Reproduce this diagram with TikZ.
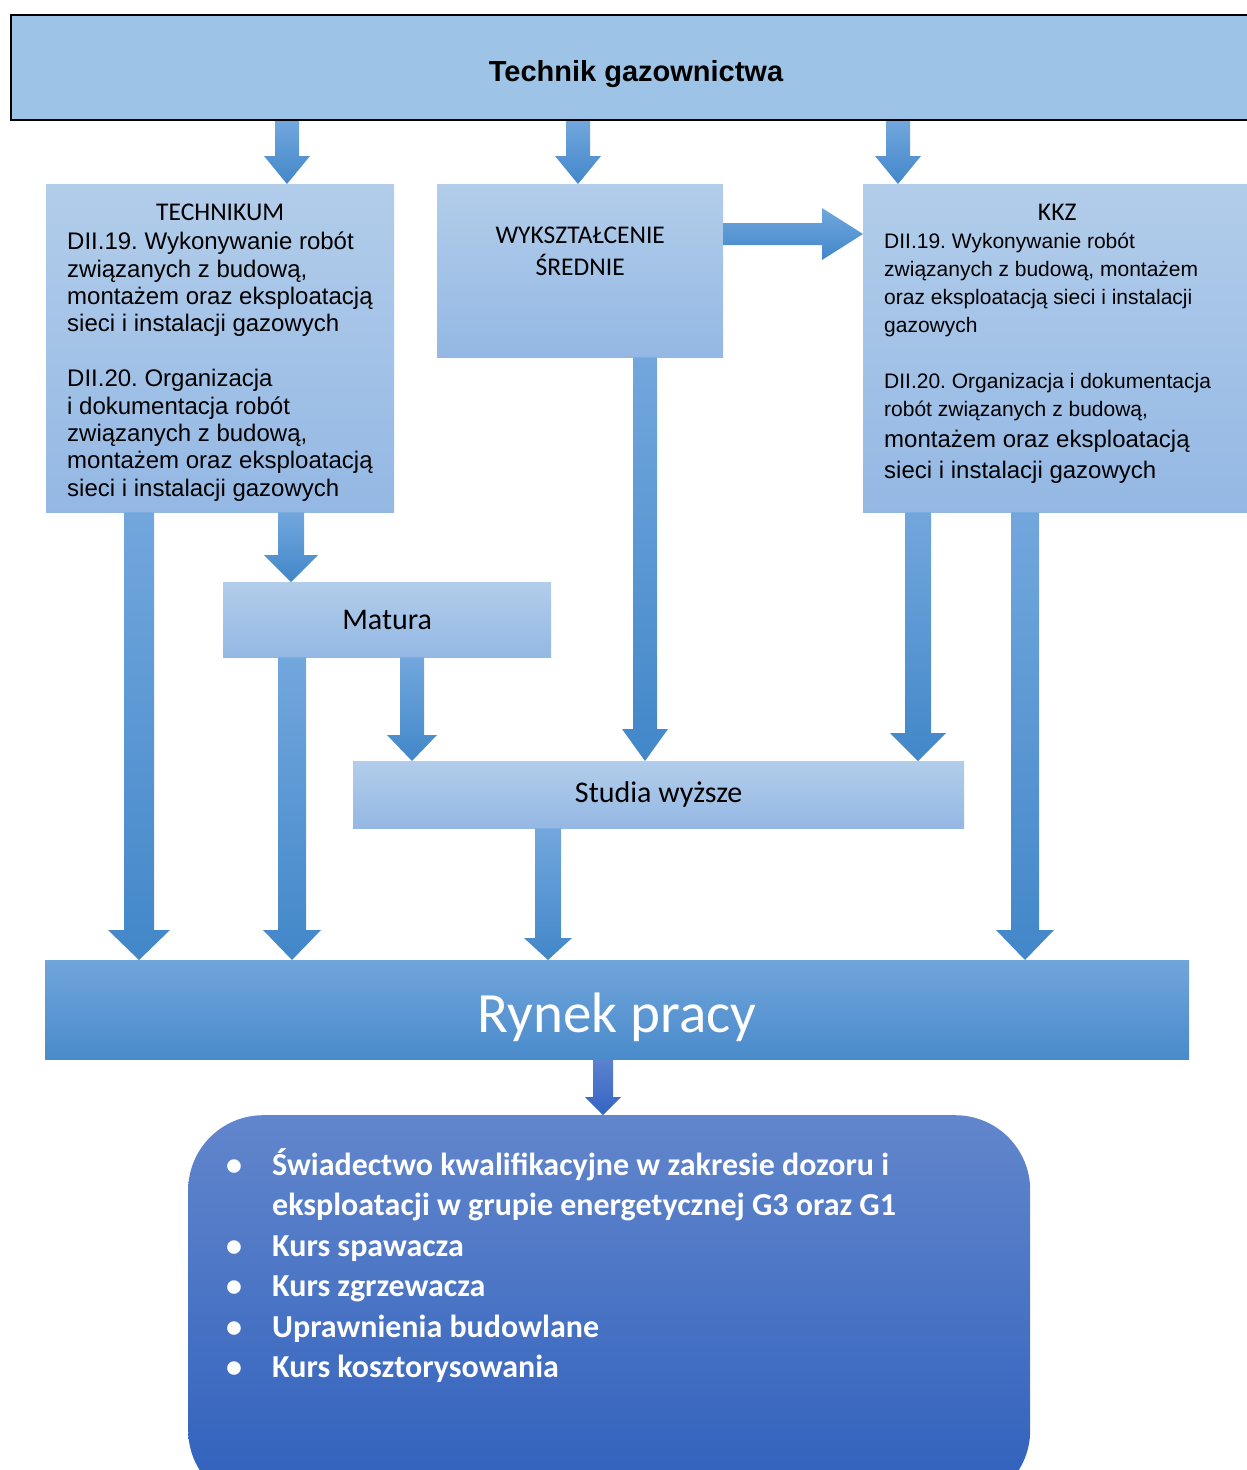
\documentclass[tikz,border=0pt]{standalone}
\usepackage{fontspec}
\setmainfont{Liberation Sans}
\newfontfamily\calibri{Carlito}
\usetikzlibrary{calc}
\frenchspacing
\definecolor{topblue}{HTML}{9DC3E6}
\definecolor{boxtop}{HTML}{B2CDEA}
\definecolor{boxbot}{HTML}{94B8E4}
\definecolor{arrtop}{HTML}{72A7DD}
\definecolor{arrbot}{HTML}{4287C9}
\definecolor{rynektop}{HTML}{70A5DB}
\definecolor{rynekbot}{HTML}{4A8BCB}
\definecolor{listtop}{HTML}{6286CC}
\definecolor{listbot}{HTML}{2F60BC}
\definecolor{darkarrtop}{HTML}{5C82CF}
\definecolor{darkarrbot}{HTML}{3464C3}
% fat block arrow going down: [style]{from}{to}{half shaft}{half head}{head length}
\newcommand{\fatdown}[6][arrowfill]{%
  \path[#1] let \p1=(#2), \p2=(#3) in
    (\x1-#4pt,\y1) -- (\x1+#4pt,\y1) -- (\x1+#4pt,\y2+#6pt) -- (\x1+#5pt,\y2+#6pt)
    -- (\x1,\y2) -- (\x1-#5pt,\y2+#6pt) -- (\x1-#4pt,\y2+#6pt) -- cycle;}
\begin{document}
\begin{tikzpicture}[x=1pt, y=-1pt,
    boxfill/.style={rectangle, top color=boxtop, bottom color=boxbot, inner sep=0pt, anchor=north west},
    arrowfill/.style={top color=arrtop, bottom color=arrbot},
    darkarrow/.style={top color=darkarrtop, bottom color=darkarrbot}]
  \useasboundingbox (0,0) rectangle (1247,1470);
  \clip (0,0) rectangle (1247,1470);

  \node[draw=black, line width=2pt, fill=topblue, minimum width=1250, minimum height=105,
        anchor=north west, text height=27pt, text depth=0pt,
        font=\bfseries\fontsize{29}{35}\selectfont] (top) at (10,14) {Technik gazownictwa};

  \node[boxfill, inner xsep=21pt] (tech) at (46,184) {\parbox[c][328pt][t]{306pt}{\vspace*{20pt}%
    {\centering\calibri\fontsize{25.5}{29}\selectfont TECHNIKUM\par}%
    \fontsize{24}{27.4}\selectfont\vspace{1.6pt}
    DII.19. Wykonywanie robót\\
    związanych z budową,\\
    montażem oraz eksploatacją\\
    sieci i instalacji gazowych\par
    \vspace{27.4pt}
    DII.20. Organizacja\\
    i dokumentacja robót\\
    związanych z budową,\\
    montażem oraz eksploatacją\\
    sieci i instalacji gazowych}};

  \node[boxfill] (wyk) at (437,184) {\parbox[c][173pt][t]{286pt}{\vspace*{43pt}%
    \centering\calibri\fontsize{25.5}{32}\selectfont WYKSZTAŁCENIE\\ŚREDNIE}};

  \node[boxfill, inner xsep=21pt] (kkz) at (863,184) {\parbox[c][328pt][t]{346pt}{\vspace*{20pt}%
    {\centering\calibri\fontsize{25.5}{29}\selectfont KKZ\par}%
    \fontsize{21}{28}\selectfont
    DII.19. Wykonywanie robót\\
    związanych z budową, montażem\\
    oraz eksploatacją sieci i instalacji\\
    gazowych\par
    \vspace{28pt}
    DII.20. Organizacja i dokumentacja\\
    robót związanych z budową,\par
    \fontsize{24}{31}\selectfont
    montażem oraz eksploatacją\\
    sieci i instalacji gazowych}};

  \node[boxfill, minimum width=328, minimum height=75,
        font=\calibri\fontsize{30}{36}\selectfont] (matura) at (223,582) {Matura};
  \node[boxfill, minimum width=611, minimum height=67,
        font=\calibri\fontsize{30}{36}\selectfont] (studia) at (353,761) {Studia wyższe};

  \node[anchor=north west, top color=rynektop, bottom color=rynekbot, minimum width=1144,
        minimum height=99, inner sep=0pt, text=white, text height=46pt, text depth=0pt,
        font=\calibri\fontsize{57}{62}\selectfont] (rynek) at (45,960) {Rynek pracy};

  \node[anchor=north west, rounded corners=75pt, top color=listtop, bottom color=listbot,
        inner xsep=38pt, inner ysep=0pt, text=white,
        font=\calibri\bfseries\fontsize{32}{40.5}\selectfont] (kursy) at (188,1115)
    {\parbox[c][390pt][t]{766pt}{\vspace*{33pt}%
    \makebox[46pt][l]{\textbullet}Świadectwo kwalifikacyjne w zakresie dozoru i\\
    \hspace*{46pt}eksploatacji w grupie energetycznej G3 oraz G1\\
    \makebox[46pt][l]{\textbullet}Kurs spawacza\\
    \makebox[46pt][l]{\textbullet}Kurs zgrzewacza\\
    \makebox[46pt][l]{\textbullet}Uprawnienia budowlane\\
    \makebox[46pt][l]{\textbullet}Kurs kosztorysowania}};

  % arrows
  \fatdown{top.south -| 287,0}{tech.north -| 287,0}{12}{23}{28}
  \fatdown{top.south -| 578,0}{wyk.north -| 578,0}{12}{23}{28}
  \fatdown{top.south -| 898,0}{kkz.north -| 898,0}{12}{23}{28}
  \path[arrowfill] let \p1=(wyk.east |- 0,234), \p2=(kkz.west |- 0,234) in
    (\x1,\y1+11pt) -- (\x2-41pt,\y1+11pt) -- (\x2-41pt,\y1+26pt) -- (\x2,\y1)
    -- (\x2-41pt,\y1-26pt) -- (\x2-41pt,\y1-11pt) -- (\x1,\y1-11pt) -- cycle;
  \fatdown{tech.south -| 139,0}{rynek.north -| 139,0}{15}{31}{30}
  \fatdown{tech.south -| 291,0}{matura.north -| 291,0}{13}{27}{27}
  \fatdown{matura.south -| 292,0}{rynek.north -| 292,0}{14}{29}{30}
  \fatdown{matura.south -| 412,0}{studia.north -| 412,0}{12}{25}{26}
  \fatdown{wyk.south -| 645,0}{studia.north -| 645,0}{12}{23}{32}
  \fatdown{kkz.south -| 918,0}{studia.north -| 918,0}{13}{28}{28}
  \fatdown{kkz.south -| 1025,0}{rynek.north -| 1025,0}{14}{29}{30}
  \fatdown{studia.south -| 548,0}{rynek.north -| 548,0}{13}{24}{22}
  \fatdown[darkarrow]{rynek.south -| 603,0}{kursy.north -| 603,0}{10}{18}{18}
\end{tikzpicture}
\end{document}
